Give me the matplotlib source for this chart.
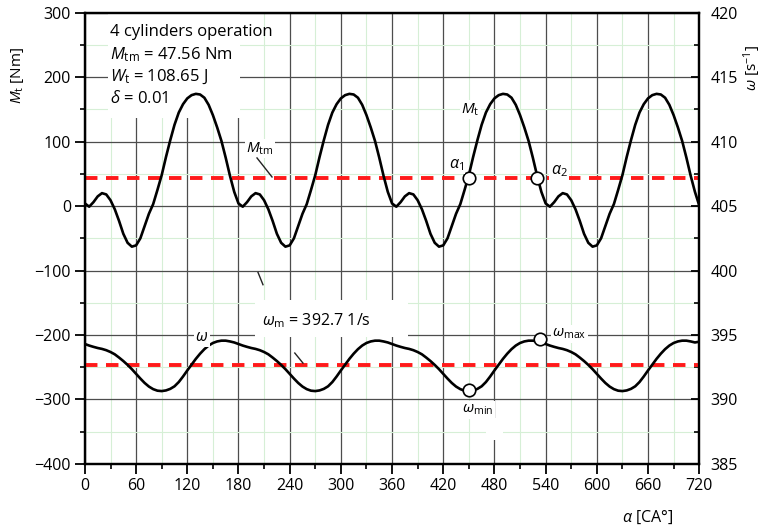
import numpy as np
import matplotlib
matplotlib.use("Agg")
import matplotlib.pyplot as plt
import matplotlib.ticker as ticker
from matplotlib.patches import Rectangle

plt.rcParams['font.family'] = ['Open Sans', 'DejaVu Sans']
plt.rcParams['mathtext.fontset'] = 'custom'
plt.rcParams['mathtext.rm'] = 'Open Sans'
plt.rcParams['mathtext.it'] = 'Open Sans:italic'

# crank angle, 5 deg steps over 0..720
alpha = np.arange(0, 725, 5)

# torque Mt [Nm], read per 180 deg cycle (4 cycles + end point)
mt = [
    4, -1, 6, 15, 20, 18, 9, -5, -23, -43, -57, -63, -61, -50, -31, -12, 3, 25,
    48, 76, 102, 126, 145, 158, 167, 172, 174, 173, 168, 157, 141, 122, 101, 75, 47, 22,
    4, -1, 6, 15, 20, 18, 9, -5, -23, -43, -57, -63, -61, -50, -31, -12, 3, 25,
    48, 76, 102, 126, 145, 158, 167, 172, 174, 173, 168, 157, 141, 122, 101, 75, 47, 22,
    4, -1, 6, 15, 20, 18, 9, -5, -23, -43, -57, -63, -61, -50, -31, -12, 3, 25,
    48, 76, 102, 126, 145, 158, 167, 172, 174, 173, 168, 157, 141, 122, 101, 75, 47, 22,
    4, -1, 6, 15, 20, 18, 9, -5, -23, -43, -57, -63, -61, -50, -31, -12, 3, 25,
    48, 76, 102, 126, 145, 158, 167, 172, 174, 173, 168, 157, 141, 122, 101, 75, 47, 22,
    1,
]

# angular speed omega [1/s]
omega = [
    394.30, 394.18, 394.08, 393.99, 393.92, 393.82, 393.68, 393.50, 393.25, 392.98, 392.68, 392.35,
    391.98, 391.62, 391.28, 391.00, 390.80, 390.68, 390.65, 390.70, 390.82, 391.02, 391.35, 391.78,
    392.25, 392.70, 393.15, 393.55, 393.90, 394.18, 394.38, 394.50, 394.56, 394.56, 394.50, 394.42,
    394.30, 394.18, 394.08, 393.99, 393.92, 393.82, 393.68, 393.50, 393.25, 392.98, 392.68, 392.35,
    391.98, 391.62, 391.28, 391.00, 390.80, 390.68, 390.65, 390.70, 390.82, 391.02, 391.35, 391.78,
    392.25, 392.70, 393.15, 393.55, 393.90, 394.18, 394.38, 394.50, 394.56, 394.56, 394.50, 394.42,
    394.30, 394.18, 394.08, 393.99, 393.92, 393.82, 393.68, 393.50, 393.25, 392.98, 392.68, 392.35,
    391.98, 391.62, 391.28, 391.00, 390.80, 390.68, 390.65, 390.70, 390.82, 391.02, 391.35, 391.78,
    392.25, 392.70, 393.15, 393.55, 393.90, 394.18, 394.38, 394.50, 394.56, 394.56, 394.50, 394.42,
    394.30, 394.18, 394.08, 393.99, 393.92, 393.82, 393.68, 393.50, 393.25, 392.98, 392.68, 392.35,
    391.98, 391.62, 391.28, 391.00, 390.80, 390.68, 390.65, 390.70, 390.82, 391.02, 391.35, 391.78,
    392.25, 392.70, 393.15, 393.55, 393.90, 394.18, 394.38, 394.50, 394.56, 394.56, 394.50, 394.42,
    394.48,
]

mt_mean_line = 44
omega_mean = 392.7

# marked points
alpha_pts = [450, 530]
alpha_pts_mt = [44, 44]
omega_pts = [450, 533]
omega_pts_val = [390.75, 394.65]

x_ticks = list(range(0, 721, 60))
mt_ticks = list(range(-400, 301, 100))
omega_ticks = list(range(385, 421, 5))

fig = plt.figure(figsize=(7.65, 5.26), dpi=100)
ax = fig.add_axes([0.111, 0.118, 0.803, 0.858])
ax2 = ax.twinx()

ax.set_xlim(0, 720)
ax.set_ylim(-400, 300)
ax2.set_ylim(385, 420)

ax.set_xticks(x_ticks)
ax.set_yticks(mt_ticks)
ax2.set_yticks(omega_ticks)
ax.xaxis.set_minor_locator(ticker.MultipleLocator(30))
ax.yaxis.set_minor_locator(ticker.MultipleLocator(50))
ax2.yaxis.set_minor_locator(ticker.MultipleLocator(2.5))

ax.grid(True, which='major', color='#4d4d4d', lw=0.9, zorder=0)
ax.grid(True, which='minor', color='#d6efd6', lw=0.8, zorder=0)
ax.set_axisbelow(True)

ax.tick_params(which='major', direction='out', length=7, width=1.3, labelsize=11.5, pad=3)
ax.tick_params(which='minor', direction='out', length=3.5, width=1.2)
ax2.tick_params(which='major', direction='in', length=6, width=1.3, labelsize=11.5, pad=8)
ax2.tick_params(which='minor', direction='in', length=3.5, width=1.2)
for sp in list(ax.spines.values()) + list(ax2.spines.values()):
    sp.set_linewidth(1.6)

# white patches covering the grid (text boxes in the original)
ax.add_patch(Rectangle((27, 137), 155, 161, facecolor='white', edgecolor='none', zorder=1))
ax.add_patch(Rectangle((199, -203), 180, 57, facecolor='white', edgecolor='none', zorder=1))
ax.add_patch(Rectangle((470, -363), 20, 34, facecolor='white', edgecolor='none', zorder=1))

# curves
ax.plot(alpha, mt, color='black', lw=1.9, zorder=3)
ax.axhline(mt_mean_line, color='#ff1a1a', lw=2.8, ls=(0, (3.2, 2.2)), zorder=2)
ax2.plot(alpha, omega, color='black', lw=1.9, zorder=3)
ax2.axhline(omega_mean, color='#ff1a1a', lw=2.8, ls=(0, (3.2, 2.2)), zorder=2)

ax.plot(alpha_pts, alpha_pts_mt, 'o', ms=9, mfc='white', mec='black', mew=1.2, zorder=4)
ax2.plot(omega_pts, omega_pts_val, 'o', ms=9, mfc='white', mec='black', mew=1.2, zorder=4)

# info text
info = ['4 cylinders operation',
        r'$M_{\mathrm{tm}}$ = 47.56 Nm',
        r'$W_{\mathrm{t}}$ = 108.65 J',
        r'$\delta$ = 0.01']
for i, s in enumerate(info):
    ax.text(29, 270 - i * 34.5, s, fontsize=12, ha='left', va='center', zorder=5)

wb = dict(facecolor='white', edgecolor='none', pad=1)
ax.text(205, 89, r'$M_{\mathrm{tm}}$', fontsize=11, ha='center', va='center', bbox=wb, zorder=5)
ax.plot([201.7, 219.3], [74.6, 45.1], color='#222222', lw=1.0, zorder=5)
ax.text(452, 150, r'$M_{\mathrm{t}}$', fontsize=11, ha='center', va='center', bbox=wb, zorder=5)
ax.text(435, 64, r'$\alpha_{\mathrm{1}}$', fontsize=11.5, ha='center', va='center', bbox=wb, zorder=5)
ax.text(556, 54, r'$\alpha_{\mathrm{2}}$', fontsize=11.5, ha='center', va='center', bbox=wb, zorder=5)
ax.plot([202.9, 208.7], [-103, -122], color='#222222', lw=1.0, zorder=5)

ax2.text(208, 396.15, r'$\omega_{\mathrm{m}}$ = 392.7 1/s', fontsize=11.5, ha='left', va='center', zorder=5)
ax2.plot([246, 255.6], [393.6, 392.82], color='#222222', lw=1.0, zorder=5)
ax2.text(137, 394.82, r'$\omega$', fontsize=11.5, ha='center', va='center', bbox=wb, zorder=5)
ax2.text(548, 395.08, r'$\omega_{\mathrm{max}}$', fontsize=11, ha='left', va='center', bbox=wb, zorder=5)
ax2.text(442, 389.2, r'$\omega_{\mathrm{min}}$', fontsize=11, ha='left', va='center', bbox=wb, zorder=5)

# axis labels
fig.text(0.0235, 0.857, r'$M_{\mathrm{t}}$ [Nm]', rotation=90, ha='center', va='center', fontsize=11)
fig.text(0.983, 0.871, r'$\omega$ [s$^{-1}$]', rotation=90, ha='center', va='center', fontsize=11)
fig.text(0.847, 0.017, r'$\alpha$ [CA°]', ha='center', va='center', fontsize=11.5)

fig.savefig('out.png', dpi=100)
